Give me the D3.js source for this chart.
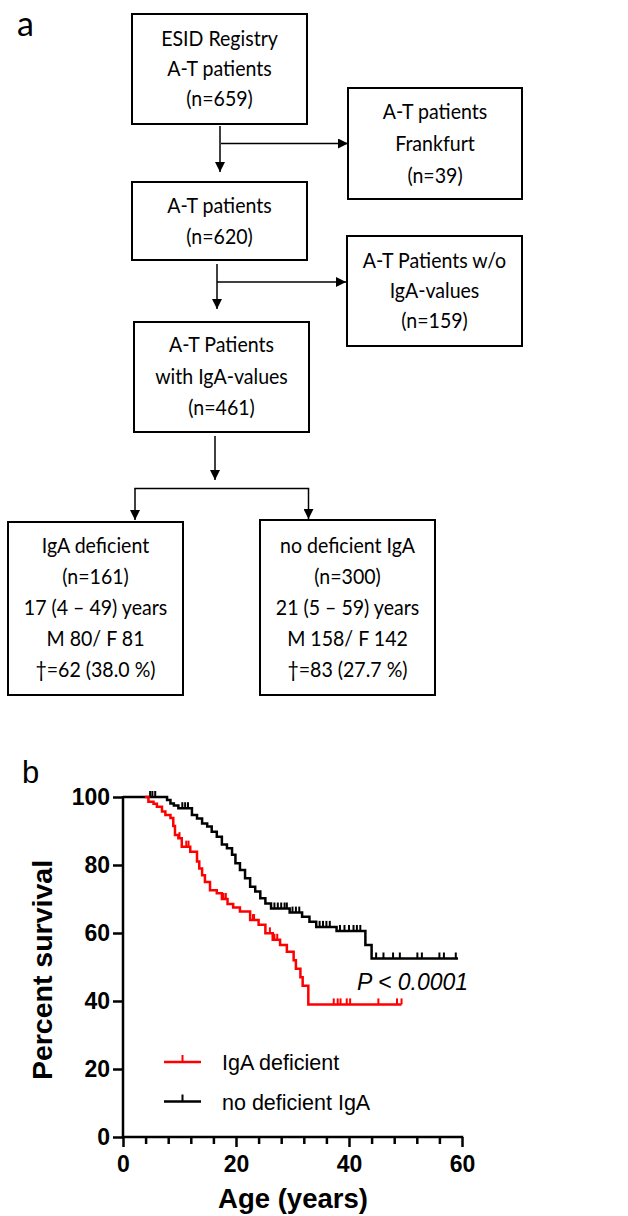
<!DOCTYPE html>
<html><head><meta charset="utf-8">
<script src="https://cdn.jsdelivr.net/npm/d3@7"></script>
<style>body{margin:0;background:#fff}svg{display:block}</style>
</head><body>
<svg id="c" width="628" height="1216"></svg>
<script>
// ---------- Flowchart content ----------
const boxTexts = [
  ["ESID Registry","A-T patients","(n=659)"],
  ["A-T patients","Frankfurt","(n=39)"],
  ["A-T patients","(n=620)"],
  ["A-T Patients w/o","IgA-values","(n=159)"],
  ["A-T Patients","with IgA-values","(n=461)"],
  ["IgA deficient","(n=161)","17 (4 \u2013 49) years","M 80/ F 81","\u2020=62 (38.0 %)"],
  ["no deficient IgA","(n=300)","21 (5 \u2013 59) years","M 158/ F 142","\u2020=83 (27.7 %)"]
];

// ---------- Survival data (Kaplan-Meier steps: [age, percent]) ----------
const noDefSteps = [[0,100],[7.8,99.1],[8.4,98.1],[9.0,97.5],[9.8,96.7],[12.2,94.7],[13.1,93.7],[14.0,92.2],[14.9,91.3],[15.7,89.8],[16.6,88.3],[17.5,86.0],[18.4,84.9],[19.3,83.0],[19.9,80.5],[20.7,78.5],[21.6,76.1],[22.5,73.6],[23.4,72.2],[24.3,70.2],[25.2,68.7],[26.2,67.2],[29.5,66.0],[31.7,64.8],[33.0,63.3],[34.2,61.8],[37.8,60.6],[42.9,56.5],[44.0,52.5],[59.3,52.5]];
const noDefCensor = [4.8,5.2,5.7,10.5,11.0,11.5,26.8,27.4,28.0,28.6,29.0,30.0,30.6,31.2,34.8,35.4,36.0,36.6,38.4,39.2,40.0,40.8,41.4,42.0,44.8,46.1,47.8,49.0,52.1,52.9,56.0,56.8,58.9];
const igaDefSteps = [[3.9,100],[4.5,98.6],[5.4,98.0],[6.0,97.1],[6.9,95.7],[7.5,94.7],[8.4,93.8],[8.9,91.5],[9.2,88.8],[9.8,87.9],[10.4,85.4],[11.9,83.9],[13.1,81.0],[13.5,79.0],[14.0,77.0],[14.5,75.0],[15.4,72.6],[16.6,71.7],[17.5,70.0],[18.5,68.5],[19.5,67.5],[20.7,66.3],[22.5,63.8],[24.0,62.4],[25.2,59.9],[26.5,58.0],[27.8,56.5],[29.0,54.5],[30.2,52.0],[30.6,49.5],[31.4,47.0],[31.8,44.5],[32.8,39.0],[49.3,39.0]];
const igaDefCensor = [10.0,11.2,11.6,17.8,18.2,23.0,23.2,26.0,26.8,27.3,37.3,38.0,38.5,39.6,40.2,45.2,48.5,49.3];
const seriesNames = ["IgA deficient","no deficient IgA"];
const seriesColors = ["#ff0000","#000000"];
const xTicks = [0,20,40,60];
const yTicks = [0,20,40,60,80,100];

const svg = d3.select("#c");

// ---------- Flowchart ----------
const boxes = [
  {x:132,y:14,w:175,h:110},
  {x:348,y:88,w:174,h:111},
  {x:132,y:182,w:175,h:78},
  {x:347,y:236,w:175,h:110},
  {x:134,y:322,w:175,h:110},
  {x:8,y:522,w:175,h:173},
  {x:260,y:520,w:175,h:175}
];
const firstBase = [46,119,213,268,352,553,553];
const lineGap = [30,32,31,30,31.5,31,31];
const ffont = "Lato, 'Liberation Sans', sans-serif";

boxes.forEach((b,i)=>{
  svg.append("rect").attr("x",b.x).attr("y",b.y).attr("width",b.w).attr("height",b.h)
    .attr("fill","none").attr("stroke","#000").attr("stroke-width",2);
  boxTexts[i].forEach((t,j)=>{
    svg.append("text")
      .attr("transform",`translate(${b.x+b.w/2},${firstBase[i]+j*lineGap[i]}) scale(0.91,1)`)
      .attr("text-anchor","middle").attr("font-family",ffont).attr("font-size",21.5)
      .attr("fill","#000").text(t);
  });
});

svg.append("defs").append("marker").attr("id","ah").attr("viewBox","0 0 10 10")
  .attr("refX",10).attr("refY",5).attr("markerWidth",12).attr("markerHeight",10)
  .attr("markerUnits","userSpaceOnUse").attr("orient","auto")
  .append("path").attr("d","M0,0L10,5L0,10Z").attr("fill","#000");

const arrows = [
  [[220,126],[220,172]],
  [[221,143.5],[348,143.5]],
  [[217,264],[217,309]],
  [[217,282],[346,282]],
  [[215,436],[215,480]],
  [[135,488.5],[135,520]],
  [[308.5,488.5],[308.5,519]]
];
arrows.forEach(a=>{
  svg.append("line").attr("x1",a[0][0]).attr("y1",a[0][1]).attr("x2",a[1][0]).attr("y2",a[1][1])
    .attr("stroke","#000").attr("stroke-width",1.5).attr("marker-end","url(#ah)");
});
svg.append("line").attr("x1",134.3).attr("x2",309.2).attr("y1",488.5).attr("y2",488.5)
  .attr("stroke","#000").attr("stroke-width",1.5);

svg.append("text").attr("x",17).attr("y",36).attr("font-family","Lato, sans-serif")
  .attr("font-size",34).text("a");

// ---------- Survival chart ----------
const x = d3.scaleLinear().domain([0,60]).range([123,462]);
const y = d3.scaleLinear().domain([0,100]).range([1137,797]);
const afont = "'Liberation Sans', Arial, sans-serif";

svg.append("text").attr("x",22).attr("y",783).attr("font-family",afont)
  .attr("font-size",31).text("b");

// y axis
const yAxis = d3.axisLeft(y).tickValues(yTicks).tickSize(10).tickPadding(3).tickSizeOuter(0);
const gy = svg.append("g").attr("transform","translate(123,0)").call(yAxis);
gy.select(".domain").attr("stroke-width",2.5).attr("d","M0,796V1137");
gy.selectAll(".tick line").attr("stroke-width",2.5);
gy.selectAll(".tick text").attr("font-family",afont).attr("font-weight","bold")
  .attr("font-size",23).attr("fill","#000");

// x axis: minor ticks every 4 years
const xAxisMinor = d3.axisBottom(x).tickValues(d3.range(0,61,4).filter(v=>v%20!==0)).tickSize(7).tickFormat("");
const gxm = svg.append("g").attr("transform","translate(0,1137)").call(xAxisMinor);
gxm.select(".domain").remove();
gxm.selectAll(".tick line").attr("stroke-width",2.5);
const xAxis = d3.axisBottom(x).tickValues(xTicks).tickSize(10).tickPadding(9).tickSizeOuter(0);
const gx = svg.append("g").attr("transform","translate(0,1137)").call(xAxis);
gx.select(".domain").attr("stroke-width",2.5).attr("d","M121.8,0H463.2");
gx.selectAll(".tick line").attr("stroke-width",2.5);
gx.selectAll(".tick text").attr("font-family",afont).attr("font-weight","bold")
  .attr("font-size",23).attr("fill","#000");

svg.append("text").attr("transform","translate(52,970) rotate(-90)").attr("text-anchor","middle")
  .attr("font-family",afont).attr("font-weight","bold").attr("font-size",28.5).text("Percent survival");
svg.append("text").attr("x",293).attr("y",1208).attr("text-anchor","middle")
  .attr("font-family",afont).attr("font-weight","bold").attr("font-size",27.5).text("Age (years)");

const line = d3.line().x(d=>x(d[0])).y(d=>y(d[1])).curve(d3.curveStepAfter);
function survAt(steps,t){let s=steps[0][1];for(const p of steps){if(p[0]<=t)s=p[1];}return s;}
function drawSeries(steps,censor,color){
  const g = svg.append("g");
  g.append("path").attr("d",line(steps)).attr("fill","none").attr("stroke",color)
    .attr("stroke-width",2.5).attr("stroke-linejoin","miter");
  g.selectAll("line.c").data(censor).join("line").attr("class","c")
    .attr("x1",d=>x(d)).attr("x2",d=>x(d))
    .attr("y1",d=>y(survAt(steps,d))).attr("y2",d=>y(survAt(steps,d))-6)
    .attr("stroke",color).attr("stroke-width",2);
}
drawSeries(noDefSteps,noDefCensor,seriesColors[1]);
drawSeries(igaDefSteps,igaDefCensor,seriesColors[0]);

svg.append("text").attr("x",357).attr("y",990).attr("font-family",afont)
  .attr("font-style","italic").attr("font-size",23).text("P < 0.0001");

// legend
const legY = [1062,1101.5];
seriesNames.forEach((n,i)=>{
  svg.append("line").attr("x1",164).attr("x2",201).attr("y1",legY[i]).attr("y2",legY[i])
    .attr("stroke",seriesColors[i]).attr("stroke-width",2.5);
  svg.append("line").attr("x1",182.5).attr("x2",182.5).attr("y1",legY[i]).attr("y2",legY[i]-7)
    .attr("stroke",seriesColors[i]).attr("stroke-width",2);
  svg.append("text").attr("x",222).attr("y",legY[i]+8).attr("font-family",afont)
    .attr("font-size",21.5).text(n);
});
</script>
</body></html>
